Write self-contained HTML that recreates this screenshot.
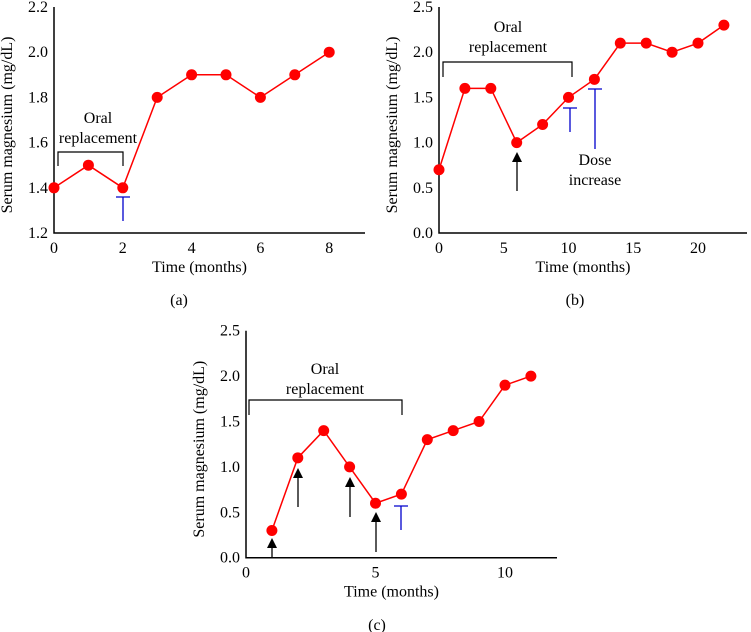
<!DOCTYPE html>
<html><head><meta charset="utf-8"><style>
body{margin:0;background:#fff;}
svg{display:block;font-family:"Liberation Serif",serif;}
</style></head><body>
<svg id="s" width="751" height="632" viewBox="0 0 751 632"></svg>
<script>
const aX=[0,1,2,3,4,5,6,7,8];
const aY=[1.4,1.5,1.4,1.8,1.9,1.9,1.8,1.9,2.0];
const aXTicks=[0,2,4,6,8];
const aYTicks=["1.2","1.4","1.6","1.8","2.0","2.2"];
const bX=[0,2,4,6,8,10,12,14,16,18,20,22];
const bY=[0.7,1.6,1.6,1.0,1.2,1.5,1.7,2.1,2.1,2.0,2.1,2.3];
const bXTicks=[0,5,10,15,20];
const bYTicks=["0.0","0.5","1.0","1.5","2.0","2.5"];
const cX=[1,2,3,4,5,6,7,8,9,10,11];
const cY=[0.3,1.1,1.4,1.0,0.6,0.7,1.3,1.4,1.5,1.9,2.0];
const cXTicks=[0,5,10];
const cYTicks=["0.0","0.5","1.0","1.5","2.0","2.5"];

const NS="http://www.w3.org/2000/svg";
const svg=document.getElementById('s');
const FS=16;
function el(tag,attrs,parent,text){const e=document.createElementNS(NS,tag);for(const k in attrs)e.setAttribute(k,attrs[k]);if(text!==undefined)e.textContent=text;(parent||svg).appendChild(e);return e;}

function chart(cfg){
  const g=el('g',{});
  
  
  const sx=v=>cfg.x0+(v-cfg.xmin)*cfg.px;
  const sy=v=>cfg.y0-(v-cfg.ymin)*cfg.py;
  const ax=el('path',{d:`M${cfg.x0},${sy(cfg.ymax)} V${cfg.y0} H${cfg.xend}`,stroke:'#000','stroke-width':1.5,fill:'none'},g);
  
  
  cfg.yt.forEach(t=>{const e=el('text',{x:cfg.x0-6,y:sy(parseFloat(t))+5,'text-anchor':'end','font-size':FS},g,t);
    
    });
  cfg.xt.forEach(t=>{const e=el('text',{x:sx(t),y:cfg.y0+20,'text-anchor':'middle','font-size':FS},g,String(t));
    
    });
  const xt=el('text',{x:(cfg.x0+cfg.xend)/2-10,y:cfg.y0+39,'text-anchor':'middle','font-size':FS},g,'Time (months)');
  
  
  const ym=(cfg.y0+sy(cfg.ymax))/2;
  const yt=el('text',{x:0,y:0,'text-anchor':'middle','font-size':FS,transform:`translate(${cfg.x0-42},${ym+5}) rotate(-90)`},g,'Serum magnesium (mg/dL)');
  
  
  const pts=cfg.xs.map((x,i)=>sx(x)+','+sy(cfg.ys[i])).join(' ');
  const ln=el('polyline',{points:pts,fill:'none',stroke:'#f00','stroke-width':1.5},g);
  
  
  cfg.xs.forEach((x,i)=>{const c=el('circle',{cx:sx(x),cy:sy(cfg.ys[i]),r:5.5,fill:'#f00'},g);
    
    });
  const lb=el('text',{x:cfg.lx,y:cfg.ly,'text-anchor':'middle','font-size':FS},g,cfg.label);
  
  
  return g;
}
chart({name:'chart-a',xs:aX,ys:aY,xt:aXTicks,yt:aYTicks,x0:54,y0:233,xmin:0,px:34.4,xend:365,ymin:1.2,ymax:2.2,py:226,label:'(a)',lx:179,ly:305});
chart({name:'chart-b',xs:bX,ys:bY,xt:bXTicks,yt:bYTicks,x0:439,y0:233,xmin:0,px:12.95,xend:747,ymin:0,ymax:2.5,py:90.4,label:'(b)',lx:575,ly:305});
chart({name:'chart-c',xs:cX,ys:cY,xt:cXTicks,yt:cYTicks,x0:246,y0:557.7,xmin:0,px:25.9,xend:557,ymin:0,ymax:2.5,py:90.8,label:'(c)',lx:377,ly:630});

function bracket(x1,x2,yt,yb,tx,ty,name){
  const p=el('path',{d:`M${x1},${yb} V${yt} H${x2} V${yb}`,fill:'none',stroke:'#000','stroke-width':1.2});
  
  
  const t1=el('text',{x:tx,y:ty,'text-anchor':'middle','font-size':FS},svg,'Oral');
  
  
  const t2=el('text',{x:tx,y:ty+20,'text-anchor':'middle','font-size':FS},svg,'replacement');
  
  
}
function tee(x,yt,yb,name){
  const p=el('path',{d:`M${x-7},${yt} H${x+7} M${x},${yt} V${yb}`,fill:'none',stroke:'#00c','stroke-width':1.3});
  
  
}
function arrow(x,yt,yb){
  const p=el('path',{d:`M${x},${yb} V${yt+8}`,stroke:'#000','stroke-width':1.3,fill:'none'});
  
  
  const h=el('polygon',{points:`${x},${yt} ${x-5},${yt+10} ${x+5},${yt+10}`,fill:'#000'});
  
  
}
bracket(58,123,152,166,98,123,'oral-replacement-a');
tee(123,197,221,'dose-marker-a');
bracket(443,572,62,77,508,32,'oral-replacement-b');
arrow(517,152,191);
tee(570,108,132,'dose-marker-b1');
tee(595,89,149,'dose-marker-b2');
let d1=el('text',{x:595,y:165,'text-anchor':'middle','font-size':FS},svg,'Dose');


let d2=el('text',{x:595,y:185,'text-anchor':'middle','font-size':FS},svg,'increase');


bracket(249,402,400,415,325,374,'oral-replacement-c');
arrow(272,538,557);
arrow(298,468,507);
arrow(350,477,517);
arrow(376,512,552);
tee(401,506,530,'dose-marker-c');
</script>
</body></html>
